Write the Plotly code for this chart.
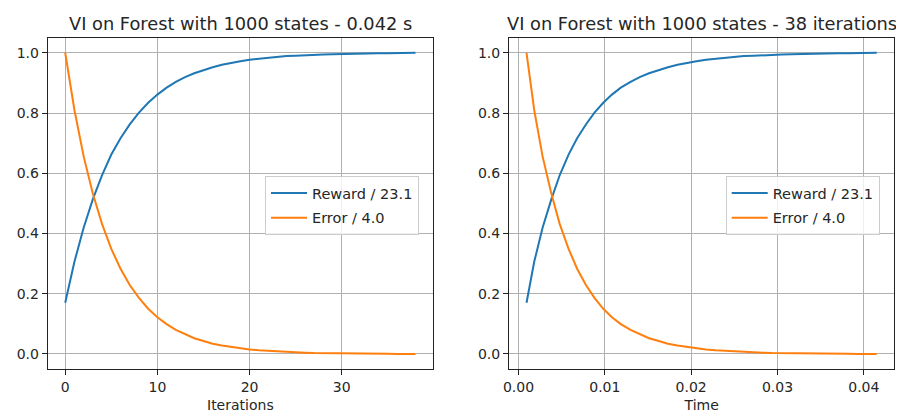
import plotly.graph_objects as go

iterations = list(range(39))
times = [0.00093, 0.00182, 0.00279, 0.00381, 0.00478, 0.00580, 0.00679, 0.00781,
         0.00880, 0.00982, 0.01082, 0.01185, 0.01298, 0.01404, 0.01512, 0.01625,
         0.01731, 0.01842, 0.01951, 0.02062, 0.02171, 0.02282, 0.02395, 0.02503,
         0.02611, 0.02722, 0.02833, 0.02941, 0.03049, 0.03158, 0.03266, 0.03375,
         0.03486, 0.03597, 0.03705, 0.03816, 0.03925, 0.04036, 0.04150]
reward = [0.170, 0.306, 0.419, 0.514, 0.594, 0.662, 0.716, 0.762, 0.801, 0.834,
          0.861, 0.884, 0.903, 0.919, 0.932, 0.943, 0.952, 0.960, 0.967, 0.972,
          0.977, 0.980, 0.984, 0.986, 0.989, 0.990, 0.992, 0.993, 0.994, 0.995,
          0.996, 0.997, 0.997, 0.998, 0.998, 0.998, 0.999, 0.999, 1.000]
error = [1.000, 0.810, 0.656, 0.532, 0.431, 0.349, 0.283, 0.229, 0.186, 0.150,
         0.122, 0.099, 0.080, 0.065, 0.052, 0.043, 0.034, 0.028, 0.023, 0.018,
         0.015, 0.012, 0.010, 0.008, 0.006, 0.005, 0.004, 0.003, 0.003, 0.002,
         0.002, 0.001, 0.001, 0.001, 0.001, 0.001, 0.000, 0.000, 0.000]

reward_label = "Reward / 23.1"
error_label = "Error / 4.0"
title_left = "VI on Forest with 1000 states - 0.042 s"
title_right = "VI on Forest with 1000 states - 38 iterations"

BLUE = "#1f77b4"
ORANGE = "#ff7f0e"
FONT = "DejaVu Sans"
TXT = "#262626"
OFF = 8                      # page body margin of the browser
W, H = 904 - OFF, 414 - OFF  # figure size so that it fills the window


def px_x(p):
    return (p - OFF) / W


def px_y(p):
    return (H - (p - OFF)) / H


fig = go.Figure()
fig.add_trace(go.Scatter(x=iterations, y=reward, mode="lines", name=reward_label, legendgroup="r",
                         line=dict(color=BLUE, width=2), xaxis="x", yaxis="y", legend="legend"))
fig.add_trace(go.Scatter(x=iterations, y=error, mode="lines", name=error_label, legendgroup="e",
                         line=dict(color=ORANGE, width=2), xaxis="x", yaxis="y", legend="legend"))
fig.add_trace(go.Scatter(x=times, y=reward, mode="lines", name=reward_label, legendgroup="r2",
                         line=dict(color=BLUE, width=2), xaxis="x2", yaxis="y2", legend="legend2"))
fig.add_trace(go.Scatter(x=times, y=error, mode="lines", name=error_label, legendgroup="e2",
                         line=dict(color=ORANGE, width=2), xaxis="x2", yaxis="y2", legend="legend2"))

left_dom = [px_x(47.7), px_x(433)]
right_dom = [px_x(509), px_x(894.3)]
y_dom = [px_y(369), px_y(37.7)]

axis_common = dict(showline=True, linecolor="#222", linewidth=1, mirror=True,
                   ticks="outside", ticklen=5, tickcolor="#222", tickwidth=1,
                   showgrid=True, gridcolor="#b0b0b0", gridwidth=1, zeroline=False,
                   tickfont=dict(family=FONT, size=14, color=TXT), automargin=False)

legend_common = dict(xanchor="left", yanchor="top", bgcolor="rgba(255,255,255,0.8)",
                     bordercolor="#cccccc", borderwidth=1, tracegroupgap=3,
                     font=dict(family=FONT, size=14.5, color=TXT), itemwidth=36,
                     entrywidth=120, entrywidthmode="pixels")

fig.update_layout(
    width=W, height=H,
    margin=dict(l=0, r=0, t=0, b=0, autoexpand=False),
    paper_bgcolor="white", plot_bgcolor="white",
    font=dict(family=FONT, color=TXT),
    xaxis=dict(domain=left_dom, anchor="y", range=[-1.9, 39.9], tickvals=[0, 10, 20, 30],
               title=dict(text="Iterations", standoff=6, font=dict(family=FONT, size=14, color=TXT)),
               **axis_common),
    yaxis=dict(domain=y_dom, anchor="x", range=[-0.05, 1.05], tickvals=[0, 0.2, 0.4, 0.6, 0.8, 1.0],
               tickformat=".1f", **axis_common),
    xaxis2=dict(domain=right_dom, anchor="y2", range=[-0.0011, 0.04353],
                tickvals=[0, 0.01, 0.02, 0.03, 0.04], tickformat=".2f",
                title=dict(text="Time", standoff=6, font=dict(family=FONT, size=14, color=TXT)),
                **axis_common),
    yaxis2=dict(domain=y_dom, anchor="x2", range=[-0.05, 1.05], tickvals=[0, 0.2, 0.4, 0.6, 0.8, 1.0],
                tickformat=".1f", **axis_common),
    legend=dict(x=px_x(265), y=px_y(176), **legend_common),
    legend2=dict(x=px_x(725.7), y=px_y(176), **legend_common),
    annotations=[
        dict(text=title_left, x=(left_dom[0] + left_dom[1]) / 2, y=px_y(24),
             xref="paper", yref="paper", xanchor="center", yanchor="middle", showarrow=False,
             font=dict(family=FONT, size=17.8, color=TXT)),
        dict(text=title_right, x=(right_dom[0] + right_dom[1]) / 2, y=px_y(24),
             xref="paper", yref="paper", xanchor="center", yanchor="middle", showarrow=False,
             font=dict(family=FONT, size=17.8, color=TXT)),
    ],
)

fig.write_html("out.html")
